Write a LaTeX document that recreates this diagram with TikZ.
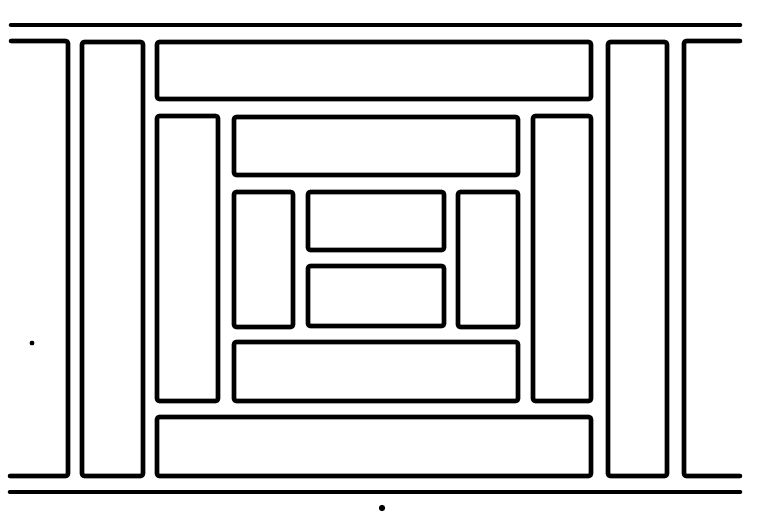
\documentclass[tikz,border=0pt]{standalone}
\begin{document}
\begin{tikzpicture}[x=1pt,y=-1pt,
  brick/.style={draw=black,line width=4.6pt,rounded corners=2.5pt,fill=none},
  rail/.style={draw=black,line width=4.6pt,line cap=round},
  speck/.style={fill=black}]
\useasboundingbox (0,0) rectangle (777,521);
% rails
\draw[rail] (11,25) coordinate (tl) -- (740,25) coordinate (tr);
\draw[rail] (10,492) coordinate (bl) -- (740,492) coordinate (br);
% side brackets
\draw[rail,rounded corners=2.5pt] (11,41) -- (68,41) -- (68,476) -- (10,476);
\draw[rail,rounded corners=2.5pt] (740,41) -- (684,41) -- (684,476) -- (740,476);
% outer columns
\draw[brick] (82,42) rectangle (143,476) node[midway] (colL) {};
\draw[brick] (608,42) rectangle (667,476) node[midway] (colR) {};
% outer ring
\draw[brick] (157,42) rectangle (591,99) node[midway] (topA) {};
\draw[brick] (157,417) rectangle (591,476) node[midway] (botA) {};
\draw[brick] (157,116) rectangle (218,401) node[midway] (leftA) {};
\draw[brick] (533,116) rectangle (591,401) node[midway] (rightA) {};
% middle ring
\draw[brick] (234,117) rectangle (518,175) node[midway] (topB) {};
\draw[brick] (234,342) rectangle (518,401) node[midway] (botB) {};
\draw[brick] (234,192) rectangle (293,327) node[midway] (leftB) {};
\draw[brick] (458,192) rectangle (518,327) node[midway] (rightB) {};
% centre
\draw[brick] (308,192) rectangle (444,250) node[midway] (cTop) {};
\draw[brick] (308,266) rectangle (444,326) node[midway] (cBot) {};
% specks
\fill[speck] (32,343) circle (2.4pt);
\fill[speck] (382,508) circle (3.2pt);
\end{tikzpicture}
\end{document}
